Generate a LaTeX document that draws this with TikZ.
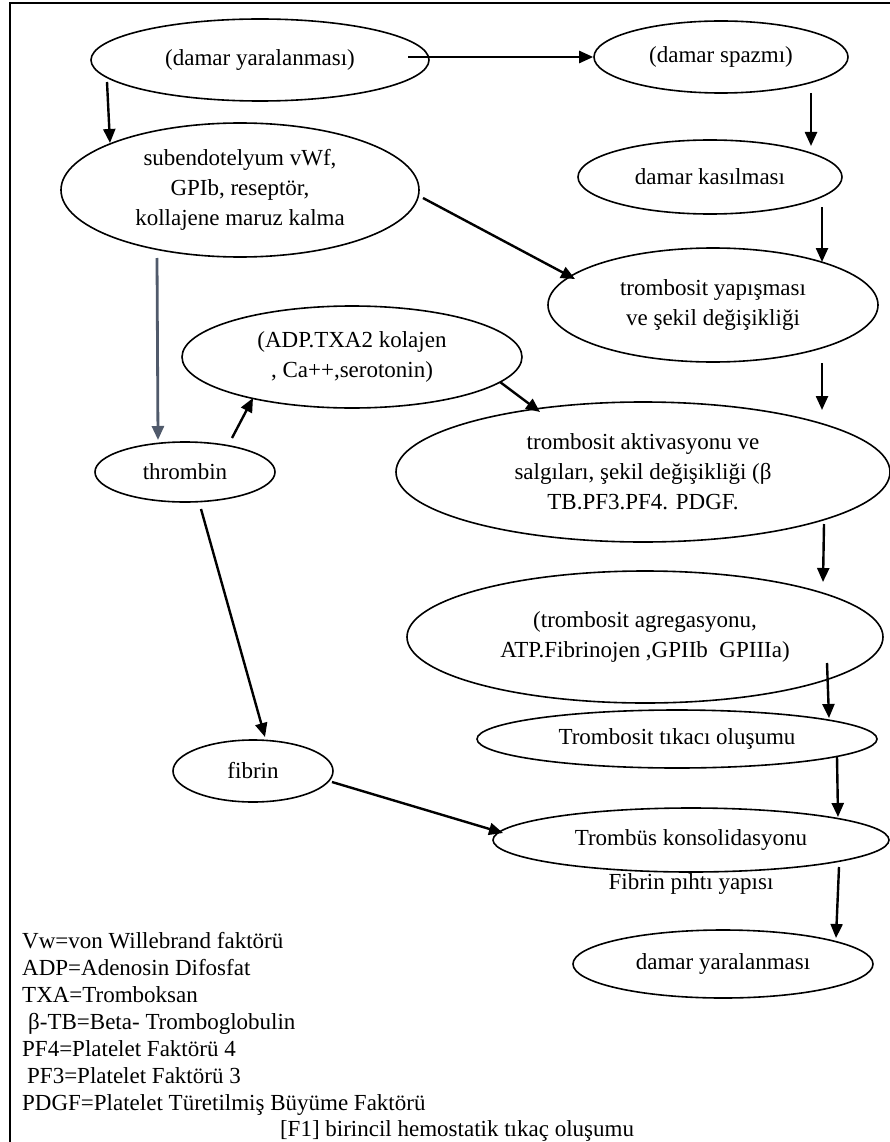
\documentclass[tikz,border=0pt]{standalone}
\usepackage{fontspec}
\setmainfont{Liberation Serif}
\usetikzlibrary{arrows.meta,shapes.geometric,calc}
\newcommand\nodefont{\fontsize{23}{30}\selectfont}
\definecolor{slategr}{HTML}{505A6B}
\tikzset{
  el/.style={ellipse, draw, line width=1.6pt, inner sep=0pt, align=center, font=\nodefont},
  arr/.style={line width=2.4pt, -{Triangle[length=14pt,width=12pt]}},
  leg/.style={anchor=base west, inner sep=0pt, font=\nodefont},
}
\begin{document}
\begin{tikzpicture}[x=1pt,y=-1pt]
\useasboundingbox (0,0) rectangle (890,1142);
\draw[line width=1.2pt] (10,1142) -- (10,3) -- (890,3);

\node[el, minimum width=338pt, minimum height=82pt] (dy1) at (260,60) {(damar yaralanması)};
\node[el, minimum width=254pt, minimum height=72pt] (sp) at (721,57) {(damar spazmı)};
\node[el, minimum width=264pt, minimum height=74pt] (kas) at (710,177) {damar kasılması};
\node[el, minimum width=358pt, minimum height=134pt] (sub) at (240,190) {subendotelyum vWf,\\GPIb, reseptör,\\kollajene maruz kalma};
\node[el, minimum width=330pt, minimum height=114pt] (yap) at (713,305) {trombosit yapışması\\ve şekil değişikliği};
\node[el, minimum width=340pt, minimum height=102pt] (adp) at (352,357) {(ADP.TXA2 kolajen\\, Ca++,serotonin)};
\node[el, minimum width=180pt, minimum height=60pt] (thr) at (185,472) {thrombin};
\node[el, minimum width=494pt, minimum height=140pt] (akt) at (643,472) {trombosit aktivasyonu ve\\salgıları, şekil değişikliği (β\\TB.PF3.PF4. PDGF.};
\node[el, minimum width=476pt, minimum height=132pt] (agr) at (645,637) {(trombosit agregasyonu,\\ATP.Fibrinojen ,GPIIb\ \ GPIIIa)};
\node[el, minimum width=400pt, minimum height=58pt] (tik) at (677,739) {Trombosit tıkacı oluşumu};
\node[el, minimum width=396pt, minimum height=64pt] (kon) at (691,840) {Trombüs konsolidasyonu};
\node[font=\nodefont, inner sep=0pt] (fpy) at (691,884) {Fibrin pıhtı yapısı};
\node[el, minimum width=300pt, minimum height=68pt] (dy2) at (723,964) {damar yaralanması};
\node[el, minimum width=160pt, minimum height=62pt] (fib) at (253,771) {fibrin};

\draw[arr] ($(dy1)+(148,-3)$) -- (sp.west);
\draw[arr] ($(dy1)+(-153,22)$) -- ($(sub)+(-130,-47)$);
\draw[arr] ($(sp)+(90,36)$) -- ($(kas)+(101,-31)$);
\draw[arr] ($(kas)+(112,30)$) -- ($(yap)+(109,-43)$);
\draw[arr] ($(sub)+(183,8)$) -- ($(yap)+(-138,-26)$);
\draw[arr, slategr, line width=2.8pt] ($(sub)+(-83,68)$) -- ($(thr)+(-27,-32)$);
\draw[arr] ($(thr)+(47,-34)$) -- ($(adp)+(-99,41)$);
\draw[arr] ($(adp)+(148,25)$) -- ($(akt)+(-103,-60)$);
\draw[arr] ($(yap)+(109,58)$) -- ($(akt)+(179,-62)$);
\draw[arr] ($(akt)+(181,52)$) -- ($(agr)+(178,-55)$);
\draw[arr] ($(agr)+(182,26)$) -- ($(tik)+(152,-21)$);
\draw[arr] ($(tik)+(160,18)$) -- ($(kon)+(147,-23)$);
\draw[arr] ($(kon)+(148,27)$) -- ($(dy2)+(113,-26)$);
\draw[arr] ($(thr)+(16,37)$) -- ($(fib)+(12,-34)$);
\draw[arr] ($(fib)+(79,11)$) -- ($(kon)+(-188,-7)$);

\node[leg] (l1) at (22,948) {Vw=von Willebrand faktörü};
\node[leg] (l2) at (22,975) {ADP=Adenosin Difosfat};
\node[leg] (l3) at (22,1002) {TXA=Tromboksan};
\node[leg] (l4) at (28,1029) {β-TB=Beta- Tromboglobulin};
\node[leg] (l5) at (22,1056) {PF4=Platelet Faktörü 4};
\node[leg] (l6) at (27,1083) {PF3=Platelet Faktörü 3};
\node[leg] (l7) at (22,1110) {PDGF=Platelet Türetilmiş Büyüme Faktörü};
\node[anchor=base, inner sep=0pt, font=\nodefont] (cap) at (457,1136) {[F1] birincil hemostatik tıkaç oluşumu};
\end{tikzpicture}
\end{document}
